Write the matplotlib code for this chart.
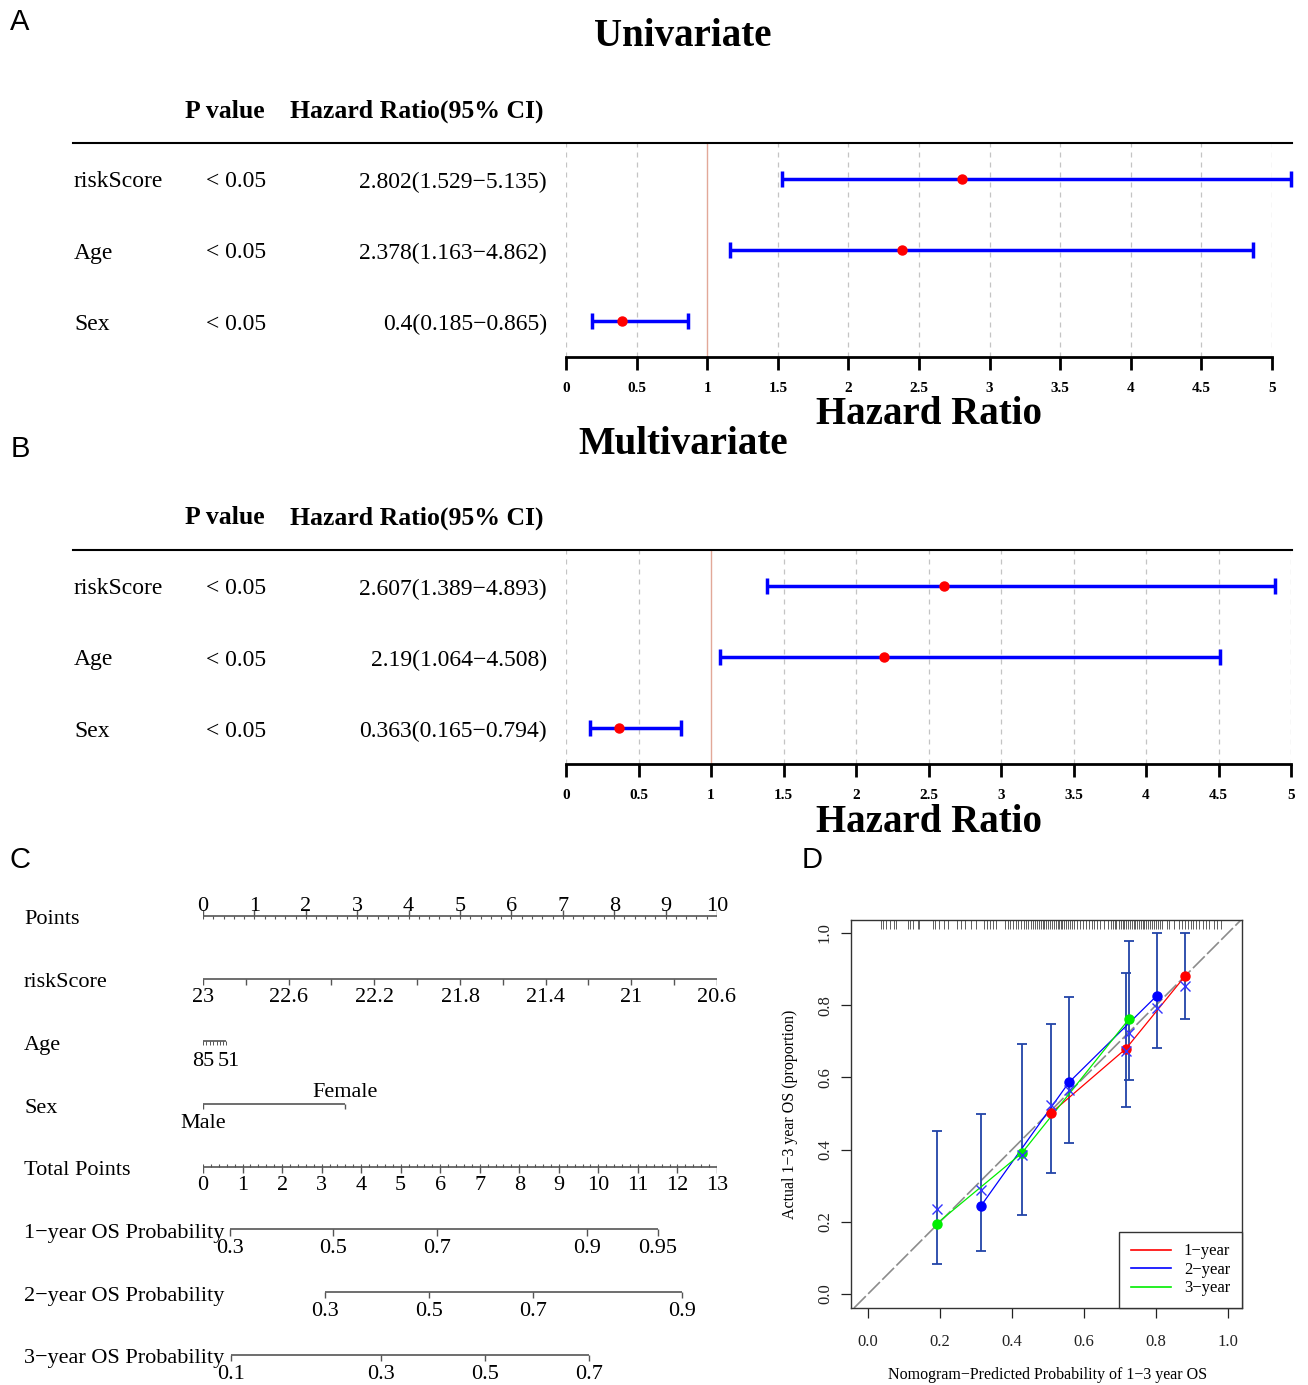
import numpy as np
import matplotlib
matplotlib.use('Agg')
import matplotlib.pyplot as plt
from matplotlib.lines import Line2D
from matplotlib.transforms import blended_transform_factory, offset_copy

W, H = 1308, 1385
plt.rcParams['font.family'] = ['Liberation Serif', 'DejaVu Serif']

# ---- forest plot data (A: univariate, B: multivariate)
variables = ['riskScore', 'Age', 'Sex']
p_text = ['< 0.05', '< 0.05', '< 0.05']
uni_hr = [2.802, 2.378, 0.4]
uni_lo = [1.529, 1.163, 0.185]
uni_hi = [5.135, 4.862, 0.865]
multi_hr = [2.607, 2.19, 0.363]
multi_lo = [1.389, 1.064, 0.165]
multi_hi = [4.893, 4.508, 0.794]
hr_ticks = np.arange(0, 5.01, 0.5)

# ---- nomogram data (C)
nomo_rows = ['Points', 'riskScore', 'Age', 'Sex', 'Total Points',
             '1\u2212year OS Probability', '2\u2212year OS Probability', '3\u2212year OS Probability']
risk_max, risk_min = 23, 20.6
risk_labels = [23, 22.6, 22.2, 21.8, 21.4, 21, 20.6]
age_max, age_min = 85, 51
age_pts = 0.45
age_ticks = [85, 80, 75, 70, 65, 60, 55, 51]
female_pts = 2.76
total_max = 13
prob1_vals = ['0.3', '0.5', '0.7', '0.9', '0.95']
prob1_tp = [0.68, 3.29, 5.92, 9.71, 11.51]
prob2_vals = ['0.3', '0.5', '0.7', '0.9']
prob2_tp = [3.09, 5.72, 8.35, 12.11]
prob3_vals = ['0.1', '0.3', '0.5', '0.7']
prob3_tp = [0.71, 4.50, 7.13, 9.76]

# ---- calibration data (D)
cal1_x = [0.507, 0.717, 0.881]
cal1_y = [0.500, 0.680, 0.881]
cal1_lo = [0.336, 0.519, 0.761]
cal1_hi = [0.747, 0.890, 1.0]
cal1_bc = [0.524, 0.673, 0.853]
cal2_x = [0.313, 0.558, 0.802]
cal2_y = [0.243, 0.586, 0.826]
cal2_lo = [0.119, 0.417, 0.681]
cal2_hi = [0.499, 0.824, 1.0]
cal2_bc = [0.288, 0.566, 0.793]
cal3_x = [0.191, 0.427, 0.726]
cal3_y = [0.195, 0.390, 0.763]
cal3_lo = [0.083, 0.220, 0.594]
cal3_hi = [0.452, 0.693, 0.977]
cal3_bc = [0.235, 0.385, 0.724]
rug_x = [0.035, 0.041, 0.05, 0.06, 0.072, 0.077, 0.11, 0.118, 0.125, 0.138, 0.143,
         0.181, 0.186, 0.197, 0.21, 0.222, 0.247, 0.258, 0.27, 0.285, 0.299,
         0.322, 0.33, 0.338, 0.347, 0.355, 0.38, 0.388, 0.395, 0.403, 0.41, 0.418,
         0.425, 0.433, 0.44, 0.444, 0.454, 0.459, 0.464, 0.47, 0.475, 0.48, 0.486,
         0.49, 0.495, 0.5, 0.506, 0.512, 0.517, 0.522, 0.527, 0.531, 0.536, 0.54,
         0.545, 0.55, 0.556, 0.562, 0.566, 0.571, 0.581, 0.588, 0.597, 0.605, 0.614,
         0.622, 0.628, 0.637, 0.645, 0.655, 0.666, 0.675, 0.68, 0.685, 0.69, 0.696,
         0.702, 0.708, 0.712, 0.718, 0.723, 0.728, 0.733, 0.738, 0.743, 0.748, 0.753,
         0.758, 0.763, 0.768, 0.773, 0.778, 0.783, 0.788, 0.794, 0.8, 0.806, 0.812,
         0.816, 0.83, 0.836, 0.849, 0.863, 0.872, 0.88, 0.888, 0.896, 0.904, 0.912,
         0.92, 0.93, 0.94, 0.948, 0.962, 0.97, 0.981]

fig = plt.figure(figsize=(W / 100, H / 100), dpi=100)


def fx(px):
    return px / W


def fy(py):
    return 1 - py / H


def add_px_axes(left, top, right, bottom):
    return fig.add_axes([left / W, 1 - bottom / H, (right - left) / W, (bottom - top) / H])


def forest(dy, title, hr, lo, hi, x_right):
    fig.text(fx(683), fy(37 + dy), title, ha='center', va='center', fontsize=28, fontweight='bold')
    fig.text(fx(225), fy(111 + dy), 'P value', ha='center', va='center', fontsize=18.5, fontweight='bold')
    fig.text(fx(417), fy(111 + dy), 'Hazard Ratio(95% CI)', ha='center', va='center',
             fontsize=18.5, fontweight='bold')
    fig.lines.append(Line2D([fx(73), fx(1292)], [fy(143 + dy)] * 2, transform=fig.transFigure,
                            color='black', lw=1.5))
    ax = add_px_axes(566, 143 + dy, x_right, 357 + dy)
    n = len(hr)
    rows = np.arange(1, n + 1)
    ax.set_xlim(0, 5)
    ax.set_ylim(n + 0.507, 0.493)
    for v in hr_ticks:
        if v != 1:
            ax.axvline(v, color='#c4c4c4', ls=(0, (4, 4)), lw=0.9)
    ax.axvline(1, color='#e2a898', lw=1.0)
    ax.hlines(rows, lo, hi, color='#0000ff', lw=2.5, clip_on=False, zorder=3)
    ax.plot(lo, rows, ls='none', marker='|', ms=12, mew=2.5, color='#0000ff', clip_on=False, zorder=3)
    ax.plot(hi, rows, ls='none', marker='|', ms=12, mew=2.5, color='#0000ff', clip_on=False, zorder=3)
    ax.plot(hr, rows, ls='none', marker='o', ms=6.5, color='#ff0000', clip_on=False, zorder=4)
    for s in ['top', 'left', 'right']:
        ax.spines[s].set_visible(False)
    ax.spines['bottom'].set_linewidth(2)
    ax.set_yticks([])
    ax.set_xticks(hr_ticks)
    ax.set_xticklabels([f'{v:g}' for v in hr_ticks], fontweight='bold')
    ax.tick_params(axis='x', length=9, width=2, pad=9, labelsize=11)
    trans = offset_copy(blended_transform_factory(fig.transFigure, ax.transData),
                        fig=fig, y=-3, units='dots')
    for r, name, p, h, l, u in zip(rows, variables, p_text, hr, lo, hi):
        ax.text(fx(74), r, name, transform=trans, ha='left', va='center', fontsize=17)
        ax.text(fx(266), r, p, transform=trans, ha='right', va='center', fontsize=17)
        ax.text(fx(547), r, f'{h}({l}\u2212{u})', transform=trans, ha='right', va='center', fontsize=17)
    fig.text(fx(929), fy(415 + dy), 'Hazard Ratio', ha='center', va='center', fontsize=28, fontweight='bold')


forest(0, 'Univariate', uni_hr, uni_lo, uni_hi, 1272)
forest(407, 'Multivariate', multi_hr, multi_lo, multi_hi, 1291)

# ---- panel C: nomogram
axc = add_px_axes(203, 884, 717, 1385)
axc.set_xlim(0, 10)
axc.set_ylim(7.48, -0.51)
axc.axis('off')
tr_lab = offset_copy(blended_transform_factory(fig.transFigure, axc.transData), fig=fig, y=-4, units='dots')
tr_txt = offset_copy(axc.transData, fig=fig, y=-3, units='dots')
for i, name in enumerate(nomo_rows):
    axc.text(fx(24), i, name, transform=tr_lab, ha='left', va='center', fontsize=16)

lc = '#555555'
tk = 0.1
fs = 16
# Points
r = 0
axc.hlines(r, 0, 10, color=lc, lw=1.2)
axc.vlines(np.arange(0, 11), r - tk, r, color=lc, lw=1)
axc.vlines(np.arange(0, 10.01, 0.2), r, r + 0.05, color=lc, lw=0.8)
for v in range(11):
    axc.text(v, r - 0.2, str(v), ha='center', va='center', fontsize=fs, transform=tr_txt)
# riskScore
r = 1
rv = np.arange(risk_max, risk_min - 0.01, -0.2)
axc.hlines(r, 0, 10, color=lc, lw=1.2)
axc.vlines((risk_max - rv) / (risk_max - risk_min) * 10, r, r + tk, color=lc, lw=1)
for v in risk_labels:
    axc.text((risk_max - v) / (risk_max - risk_min) * 10, r + 0.25, f'{v:g}', ha='center', va='center',
             fontsize=fs, transform=tr_txt)
# Age
r = 2
ap = [(age_max - a) / (age_max - age_min) * age_pts for a in age_ticks]
axc.hlines(r, 0, age_pts, color=lc, lw=1.2)
axc.vlines(ap, r, r + 0.06, color=lc, lw=0.7)
axc.text(0, r + 0.27, str(age_max), ha='center', va='center', fontsize=fs, transform=tr_txt)
axc.text(age_pts + 0.05, r + 0.27, str(age_min), ha='center', va='center', fontsize=fs, transform=tr_txt)
# Sex
r = 3
axc.hlines(r, 0, female_pts, color=lc, lw=1.2)
axc.vlines([0, female_pts], r, r + 0.08, color=lc, lw=1)
axc.text(0, r + 0.26, 'Male', ha='center', va='center', fontsize=fs, transform=tr_txt)
axc.text(female_pts, r - 0.24, 'Female', ha='center', va='center', fontsize=fs, transform=tr_txt)
# Total Points
r = 4
sc = 10 / total_max
axc.hlines(r, 0, 10, color=lc, lw=1.2)
axc.vlines(np.arange(0, total_max + 0.01) * sc, r, r + tk, color=lc, lw=1)
axc.vlines(np.arange(0, total_max + 0.01, 0.2) * sc, r - 0.05, r, color=lc, lw=0.8)
for v in range(total_max + 1):
    axc.text(v * sc, r + 0.25, str(v), ha='center', va='center', fontsize=fs, transform=tr_txt)
# probabilities
for r, vals, tp in [(5, prob1_vals, prob1_tp), (6, prob2_vals, prob2_tp), (7, prob3_vals, prob3_tp)]:
    xs = np.array(tp) * sc
    axc.hlines(r, xs[0], xs[-1], color=lc, lw=1.2)
    axc.vlines(xs, r, r + tk, color=lc, lw=1)
    for x, v in zip(xs, vals):
        axc.text(x, r + 0.26, v, ha='center', va='center', fontsize=fs, transform=tr_txt)

# ---- panel D: calibration
axd = add_px_axes(851, 920, 1242, 1308)
axd.set_xlim(-0.0472, 1.0389)
axd.set_ylim(-0.0388, 1.036)
axd.axline((0, 0), (1, 1), color='#8c8c8c', lw=1.2, ls=(0, (10, 2)), zorder=1)
trug = blended_transform_factory(axd.transData, axd.transAxes)
axd.vlines(rug_x, 0.978, 1.0, transform=trug, color='#444444', lw=0.6)
eb_col = '#2244a8'
for xs, ys, lo, hi, bc, col in [(cal1_x, cal1_y, cal1_lo, cal1_hi, cal1_bc, '#ff0000'),
                                 (cal2_x, cal2_y, cal2_lo, cal2_hi, cal2_bc, '#0000ff'),
                                 (cal3_x, cal3_y, cal3_lo, cal3_hi, cal3_bc, '#00ee00')]:
    axd.vlines(xs, lo, hi, color=eb_col, lw=1.3, zorder=2)
    axd.plot(xs, lo, ls='none', marker='_', ms=7, mew=1.3, color=eb_col, zorder=2)
    axd.plot(xs, hi, ls='none', marker='_', ms=7, mew=1.3, color=eb_col, zorder=2)
    axd.plot(xs, ys, color=col, lw=0.9, zorder=3)
    axd.plot(xs, ys, ls='none', marker='o', ms=6.5, color=col, zorder=4)
    axd.plot(xs, bc, ls='none', marker='x', ms=7, mew=1, color='#3333ff', zorder=4)
ticks = np.arange(0, 1.01, 0.2)
axd.set_xticks(ticks)
axd.set_xticklabels([f'{v:.1f}' for v in ticks])
axd.set_yticks(ticks)
axd.set_yticklabels([f'{v:.1f}' for v in ticks], rotation=90, va='center')
axd.tick_params(labelsize=12, length=7, width=0.9, colors='#222222')
axd.tick_params(axis='x', pad=12)
axd.tick_params(axis='y', pad=6)
for s in axd.spines.values():
    s.set_linewidth(1.0)
    s.set_color('#333333')
axd.set_ylabel('Actual 1\u22123 year OS (proportion)', fontsize=11.5, labelpad=14)
fig.text(fx(1048), fy(1375), 'Nomogram\u2212Predicted Probability of 1\u22123 year OS',
         ha='center', va='center', fontsize=11.5)
handles = [Line2D([], [], color=c, lw=1.2) for c in ['#ff0000', '#0000ff', '#00ee00']]
leg = axd.legend(handles, ['1\u2212year', '2\u2212year', '3\u2212year'], loc='lower right',
                 fontsize=12, fancybox=False, framealpha=1, edgecolor='#333333',
                 borderaxespad=0, handlelength=2.4, labelspacing=0.15, borderpad=0.7)
leg.get_frame().set_linewidth(1.0)

# ---- panel letters
for lab, x, y in [('A', 20, 22), ('B', 20, 449), ('C', 20, 860), ('D', 812, 860)]:
    fig.text(fx(x), fy(y), lab, ha='center', va='center', fontsize=21, family='Liberation Sans')

fig.savefig('out.png', dpi=100)
